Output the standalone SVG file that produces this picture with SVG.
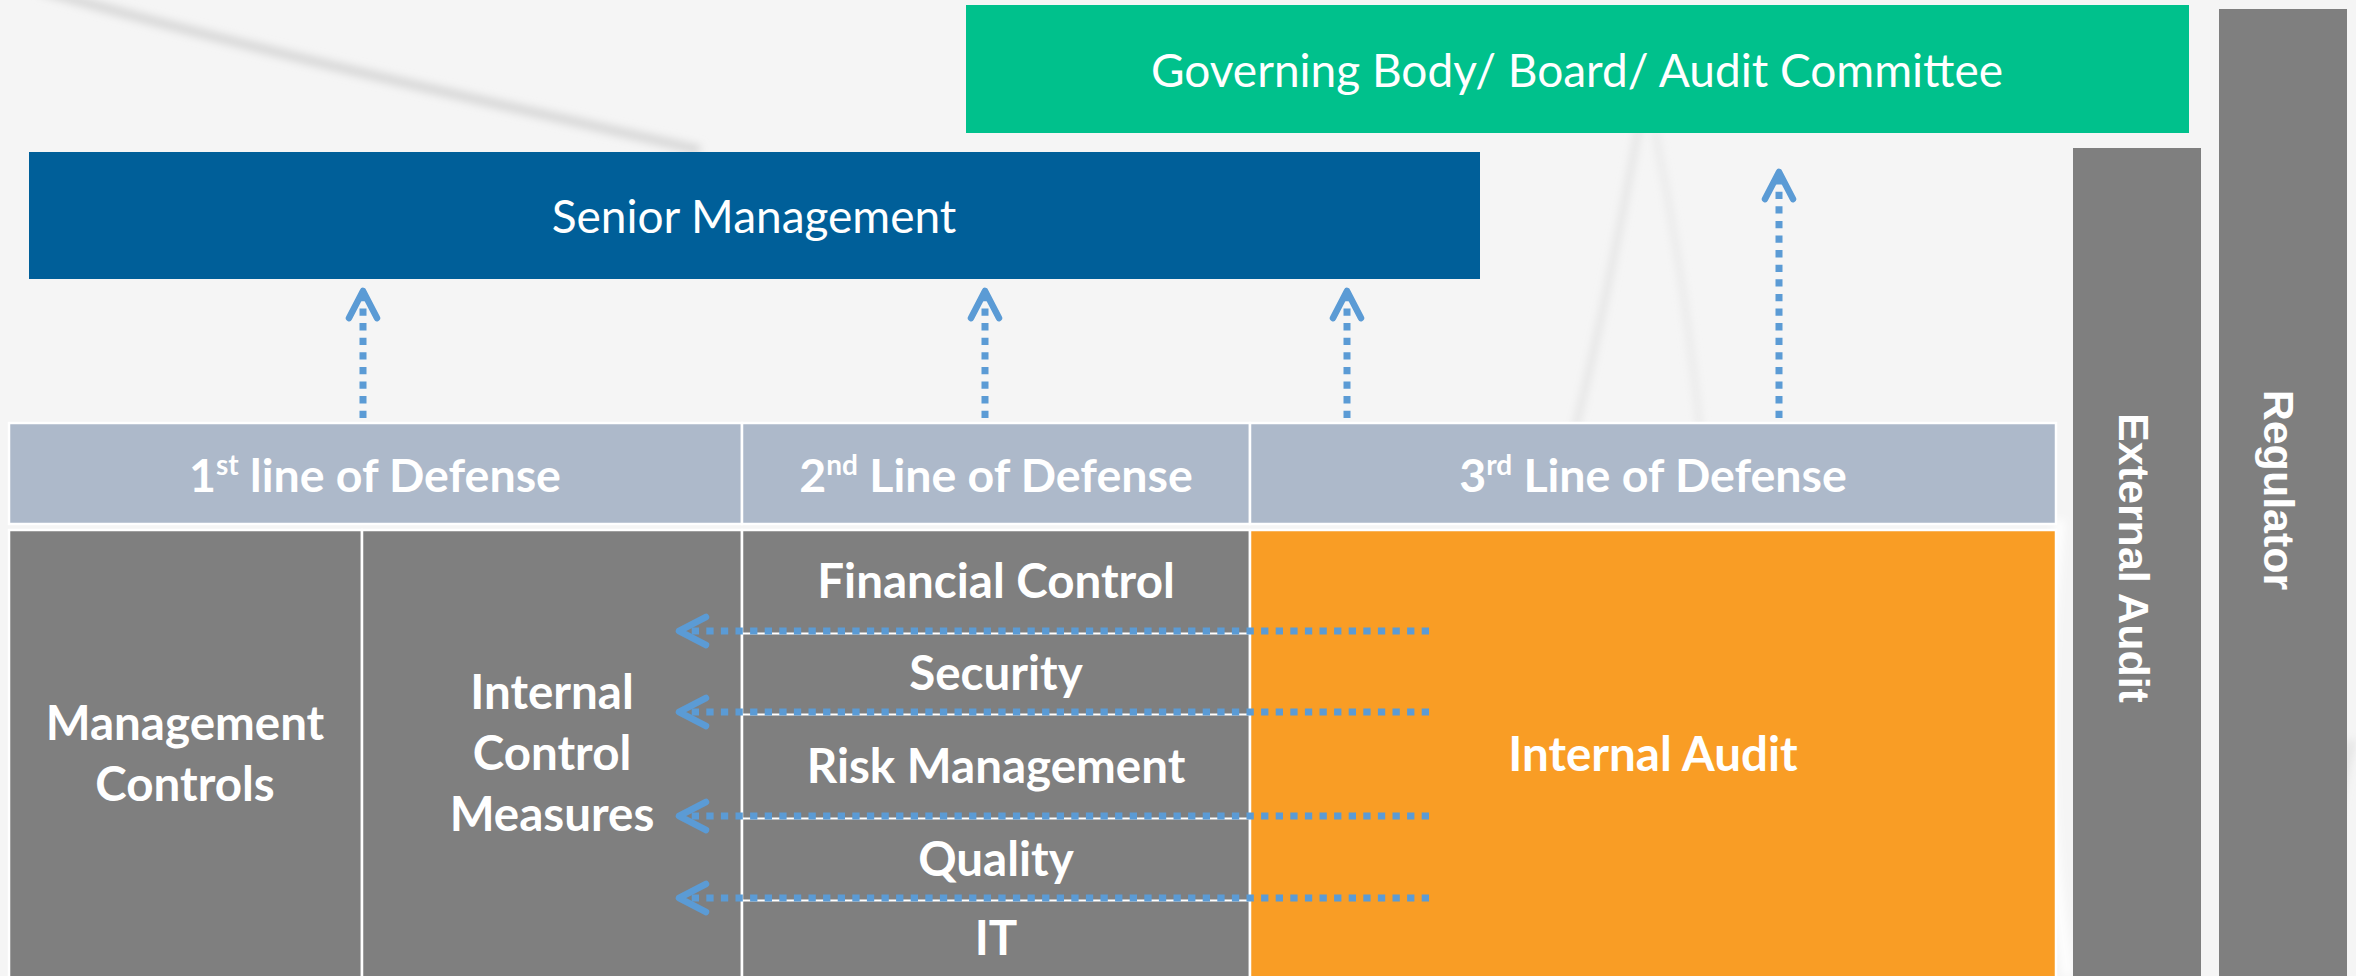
<svg xmlns="http://www.w3.org/2000/svg" width="2356" height="976" viewBox="0 0 2356 976">
<style>
.t{font-family:Lato,"Open Sans","Liberation Sans",sans-serif;fill:#fff;text-anchor:middle}
.r{font-weight:400;font-size:46px}
.h{font-weight:700;font-size:46.5px}
.b{font-weight:700;font-size:47.5px}
.v{font-family:"Liberation Sans",Arial,sans-serif;font-weight:700;font-size:43px;fill:#fff;text-anchor:middle}
.cell{stroke:#fff;stroke-width:2.5}
.hdr{fill:#ADB9CA}
.gry{fill:#7F7F7F}
.arr{fill:none;stroke:#5B9BD5;stroke-width:7;stroke-dasharray:7.3 7.3}
.sep{stroke:#fff;stroke-width:2.2}
</style>
<defs>
<filter id="blur" x="-20%" y="-20%" width="140%" height="140%"><feGaussianBlur stdDeviation="4"/></filter>
<marker id="chev" markerUnits="userSpaceOnUse" viewBox="-34 -20 40 40" markerWidth="40" markerHeight="40" refX="0" refY="0" orient="auto" overflow="visible">
<path d="M -27 -14 L 0 0 L -27 14" fill="none" stroke="#5B9BD5" stroke-width="6.5" stroke-linecap="round" stroke-linejoin="round" stroke-dasharray="none"/>
</marker>
</defs>
<rect width="2356" height="976" fill="#F5F5F5"/>
<g id="background" filter="url(#blur)" fill="none">
<path d="M 40 -10 C 250 50 480 100 700 150" stroke="#D6D6D6" stroke-width="9"/>
<path d="M 1640 120 C 1620 230 1600 330 1575 430" stroke="#E2E2E2" stroke-width="6"/>
<path d="M 1655 130 C 1675 230 1690 330 1700 430" stroke="#E6E6E6" stroke-width="5"/>
<path d="M 2060 520 C 2040 700 2050 850 2068 976" stroke="#FFFFFF" stroke-width="10"/>
<path d="M 2352 740 C 2330 830 2320 900 2330 976" stroke="#DDDDDD" stroke-width="6"/>
</g>
<g id="governing-body">
<rect x="966" y="5" width="1223" height="128" fill="#00C18C"/>
<text class="t r" x="1577" y="87">Governing Body/ Board/ Audit Committee</text>
</g>
<g id="senior-management">
<rect x="29" y="152" width="1451" height="127" fill="#005F99"/>
<text class="t r" x="754" y="233">Senior Management</text>
</g>
<g id="regulator">
<rect x="2219" y="9" width="128" height="980" fill="#7F7F7F"/>
<text class="v" transform="translate(2264 490) rotate(90)">Regulator</text>
</g>
<g id="external-audit">
<rect x="2073" y="148" width="128" height="840" fill="#7F7F7F"/>
<text class="v" transform="translate(2119 558) rotate(90)">External Audit</text>
</g>
<g id="line1-header">
<rect class="cell hdr" x="9" y="423" width="733" height="101"/>
<text class="t h" x="375" y="492">1<tspan font-size="28" dy="-17">st</tspan><tspan dy="17"> line of Defense</tspan></text>
</g>
<g id="line2-header">
<rect class="cell hdr" x="742" y="423" width="508" height="101"/>
<text class="t h" x="996" y="492">2<tspan font-size="28" dy="-17">nd</tspan><tspan dy="17"> Line of Defense</tspan></text>
</g>
<g id="line3-header">
<rect class="cell hdr" x="1250" y="423" width="806" height="101"/>
<text class="t h" x="1653" y="492">3<tspan font-size="28" dy="-17">rd</tspan><tspan dy="17"> Line of Defense</tspan></text>
</g>
<g id="management-controls">
<rect class="cell gry" x="9" y="530" width="353" height="460"/>
<text class="t b" x="185" y="740">Management</text>
<text class="t b" x="185" y="801">Controls</text>
</g>
<g id="internal-control-measures">
<rect class="cell gry" x="362" y="530" width="380" height="460"/>
<text class="t b" x="552" y="709">Internal</text>
<text class="t b" x="552" y="770">Control</text>
<text class="t b" x="552" y="831">Measures</text>
</g>
<g id="second-line-functions">
<rect class="cell gry" x="742" y="530" width="508" height="460"/>
<line class="sep" x1="742" y1="633.5" x2="1250" y2="633.5"/>
<line class="sep" x1="742" y1="714.5" x2="1250" y2="714.5"/>
<line class="sep" x1="742" y1="818.5" x2="1250" y2="818.5"/>
<line class="sep" x1="742" y1="900.5" x2="1250" y2="900.5"/>
<text class="t b" x="996" y="598">Financial Control</text>
<text class="t b" x="996" y="690">Security</text>
<text class="t b" x="996" y="783">Risk Management</text>
<text class="t b" x="996" y="876">Quality</text>
<text class="t b" x="996" y="955">IT</text>
</g>
<g id="internal-audit">
<rect class="cell" x="1250" y="530" width="806" height="460" fill="#F99D25"/>
<text class="t b" x="1653" y="771">Internal Audit</text>
</g>
<g id="connectors">
<line class="arr" x1="363" y1="418" x2="363" y2="291" marker-end="url(#chev)"/>
<line class="arr" x1="985" y1="418" x2="985" y2="291" marker-end="url(#chev)"/>
<line class="arr" x1="1347" y1="418" x2="1347" y2="291" marker-end="url(#chev)"/>
<line class="arr" x1="1779" y1="418" x2="1779" y2="172" marker-end="url(#chev)"/>
<line class="arr" x1="1429" y1="631" x2="679" y2="631" marker-end="url(#chev)"/>
<line class="arr" x1="1429" y1="712" x2="679" y2="712" marker-end="url(#chev)"/>
<line class="arr" x1="1429" y1="816" x2="679" y2="816" marker-end="url(#chev)"/>
<line class="arr" x1="1429" y1="898" x2="679" y2="898" marker-end="url(#chev)"/>
</g>
</svg>
